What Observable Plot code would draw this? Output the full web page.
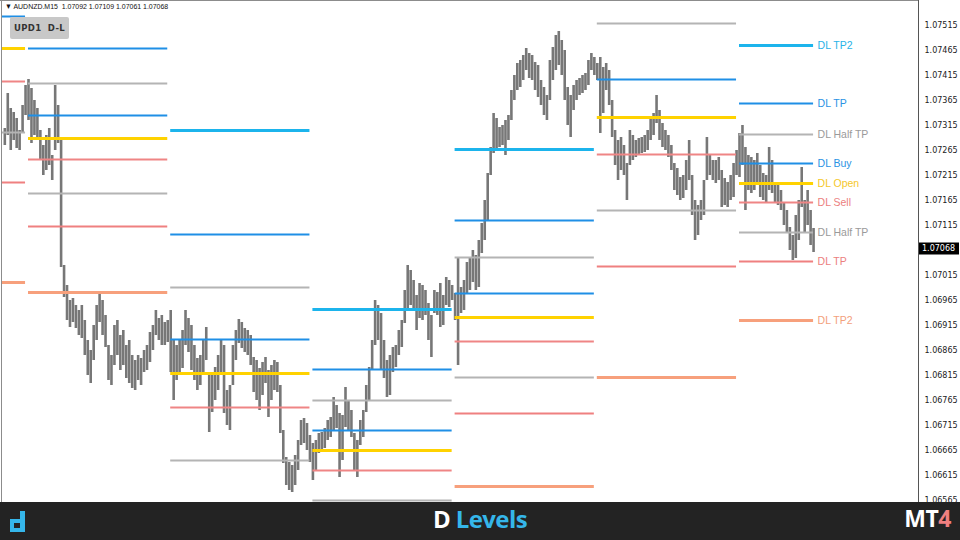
<!DOCTYPE html>
<html><head><meta charset="utf-8">
<script src="https://cdn.jsdelivr.net/npm/d3@7"></script>
<script src="https://cdn.jsdelivr.net/npm/@observablehq/plot@0.6"></script>
<style>
html,body{margin:0;padding:0;background:#fff;width:960px;height:540px;overflow:hidden}
#wrap{position:relative;width:960px;height:540px}
#chart{position:absolute;left:0;top:0;width:960px;height:502px}
#chart svg{overflow:hidden;display:block}
#footer{position:absolute;left:0;top:502px;width:960px;height:38px;background:#232323}
#hdr{position:absolute;left:5px;top:2px;font:8px "Liberation Sans",Arial,sans-serif;color:#111;white-space:pre;transform:scaleX(0.87);transform-origin:0 0}
#btn{position:absolute;left:10px;top:17px;width:59px;height:22px;background:#c8c8c8;border-radius:2px;font:bold 8.5px "DejaVu Sans",sans-serif;color:#333;line-height:22px;text-align:center;letter-spacing:.3px}
.bl{position:absolute;background:#8c8c8c}
#title{position:absolute;left:0;width:960px;top:0;height:38px;line-height:38px;text-align:center;font:700 24px "Open Sans",sans-serif;color:#fff;letter-spacing:-0.6px}
#mt{position:absolute;right:9px;top:0;height:38px;line-height:38px;font:700 23px "Open Sans",sans-serif;color:#fff;letter-spacing:-0.5px}
.cy{color:#35b6ea}.rd{color:#f07f7f}
#logo{position:absolute;left:10px;top:9px;width:15px;height:21px}
</style></head><body>
<div id="wrap">
<div id="chart"></div>
<div class="bl" style="left:0;top:0;width:918px;height:1px"></div>
<div class="bl" style="left:1px;top:0;width:1px;height:502px"></div>
<div id="hdr">&#9660; AUDNZD.M15  1.07092 1.07109 1.07061 1.07068</div>
<div id="btn">UPD1&nbsp; D-L</div>
<div id="footer">
  <svg id="logo" viewBox="0 0 15 21"><path fill="#35b6ea" d="M10 0h5v21H0V8h10z M4 12v5h6v-5z" fill-rule="evenodd"/></svg>
  <div id="title">D <span class="cy">Levels</span></div>
  <div id="mt">MT<span class="rd">4</span></div>
</div>
</div>
<script>
// ---- data ----
const symbolName = "AUDNZD.M15";
const lastClose = 1.07068;
const barStartHour = 20;      // hour of first bar
const barStepHours = 0.5;     // bar spacing (hours)
const highs = [
1.07309,1.07379,1.07349,1.07341,1.07329,1.07305,1.07355,1.07395,1.07407,1.07389,
1.07365,1.07349,1.07305,1.07275,1.07295,1.07309,1.07255,1.07395,1.07355,1.07291,
1.07035,1.06995,1.06965,1.06969,1.06955,1.06945,1.06955,1.06925,1.06885,1.06865,
1.06915,1.06955,1.06979,1.06965,1.06935,1.06875,1.06855,1.06915,1.06925,1.06895,
1.06905,1.06875,1.06885,1.06855,1.06845,1.06855,1.06849,1.06865,1.06875,1.06901,
1.06915,1.06945,1.06929,1.06935,1.06921,1.06925,1.06945,1.06885,1.06875,1.06885,
1.06905,1.06945,1.06929,1.06915,1.06875,1.06849,1.06855,1.06885,1.06911,1.06819,
1.06815,1.06831,1.06855,1.06885,1.06875,1.06785,1.06795,1.06875,1.06905,1.06927,
1.06921,1.06909,1.06905,1.06895,1.06851,1.06845,1.06829,1.06841,1.06851,1.06825,
1.06835,1.06845,1.06841,1.06795,1.06705,1.06651,1.06641,1.06635,1.06655,1.06685,
1.06725,1.06729,1.06719,1.06695,1.06679,1.06685,1.06699,1.06701,1.06709,1.06725,
1.06731,1.06771,1.06755,1.06739,1.06735,1.06791,1.06765,1.06745,1.06699,1.06685,
1.06725,1.06745,1.06795,1.06831,1.06885,1.06965,1.06955,1.06939,1.06885,1.06845,
1.06855,1.06871,1.06875,1.06905,1.06925,1.06985,1.07035,1.07025,1.07005,1.06975,
1.06999,1.06995,1.06985,1.06959,1.06935,1.06985,1.06981,1.06999,1.06975,1.07011,
1.07005,1.06995,1.06979,1.07051,1.06991,1.07005,1.07041,1.07049,1.07065,1.07055,
1.07085,1.07119,1.07165,1.07219,1.07271,1.07339,1.07329,1.07311,1.07315,1.07325,
1.07335,1.07385,1.07415,1.07439,1.07445,1.07455,1.07469,1.07459,1.07455,1.07441,
1.07435,1.07405,1.07391,1.07375,1.07445,1.07471,1.07495,1.07503,1.07485,1.07465,
1.07391,1.07375,1.07395,1.07405,1.07409,1.07415,1.07419,1.07445,1.07459,1.07451,
1.07439,1.07451,1.07431,1.07439,1.07425,1.07365,1.07305,1.07285,1.07291,1.07275,
1.07239,1.07305,1.07295,1.07285,1.07289,1.07291,1.07295,1.07305,1.07329,1.07339,
1.07375,1.07345,1.07319,1.07305,1.07295,1.07275,1.07239,1.07229,1.07211,1.07215,
1.07245,1.07285,1.07215,1.07165,1.07155,1.07165,1.07205,1.07291,1.07255,1.07245,
1.07245,1.07251,1.07225,1.07209,1.07201,1.07215,1.07239,1.07265,1.07299,1.07315,
1.07271,1.07255,1.07251,1.07245,1.07259,1.07235,1.07219,1.07215,1.07271,1.07245,
1.07199,1.07195,1.07185,1.07159,1.07145,1.07111,1.07095,1.07135,1.07165,1.07231,
1.07165,1.07185,1.07145,1.07109];
const lows = [
1.07275,1.07295,1.07265,1.07285,1.07269,1.07265,1.07301,1.07335,1.07325,1.07279,
1.07295,1.07285,1.07245,1.07215,1.07225,1.07235,1.07205,1.07265,1.07279,1.07031,
1.06971,1.06925,1.06911,1.06921,1.06909,1.06895,1.06889,1.06855,1.06815,1.06799,
1.06845,1.06885,1.06921,1.06895,1.06871,1.06805,1.06795,1.06835,1.06855,1.06825,
1.06835,1.06809,1.06799,1.06789,1.06785,1.06805,1.06795,1.06821,1.06825,1.06841,
1.06865,1.06895,1.06885,1.06875,1.06875,1.06881,1.06821,1.06765,1.06805,1.06821,
1.06829,1.06875,1.06861,1.06825,1.06805,1.06785,1.06795,1.06821,1.06845,1.06701,
1.06741,1.06765,1.06785,1.06815,1.06739,1.06715,1.06705,1.06795,1.06845,1.06879,
1.06869,1.06861,1.06855,1.06835,1.06781,1.06765,1.06745,1.06775,1.06799,1.06731,
1.06765,1.06785,1.06781,1.06699,1.06639,1.06595,1.06585,1.06581,1.06595,1.06625,
1.06675,1.06679,1.06665,1.06641,1.06605,1.06625,1.06659,1.06665,1.06669,1.06685,
1.06691,1.06705,1.06709,1.06611,1.06645,1.06711,1.06705,1.06691,1.06625,1.06611,
1.06675,1.06691,1.06741,1.06765,1.06825,1.06875,1.06885,1.06825,1.06809,1.06771,
1.06775,1.06821,1.06831,1.06855,1.06871,1.06919,1.06945,1.06955,1.06945,1.06905,
1.06929,1.06925,1.06935,1.06885,1.06851,1.06939,1.06935,1.06911,1.06915,1.06955,
1.06951,1.06965,1.06925,1.06835,1.06939,1.06945,1.06979,1.06985,1.07001,1.06985,
1.06991,1.07059,1.07085,1.07125,1.07215,1.07259,1.07265,1.07271,1.07275,1.07255,
1.07285,1.07325,1.07365,1.07385,1.07391,1.07405,1.07425,1.07409,1.07405,1.07385,
1.07371,1.07355,1.07335,1.07325,1.07365,1.07405,1.07425,1.07435,1.07415,1.07365,
1.07315,1.07291,1.07345,1.07365,1.07375,1.07379,1.07385,1.07395,1.07425,1.07415,
1.07405,1.07299,1.07339,1.07385,1.07355,1.07291,1.07235,1.07205,1.07225,1.07215,
1.07165,1.07235,1.07245,1.07251,1.07255,1.07259,1.07261,1.07265,1.07285,1.07295,
1.07319,1.07285,1.07271,1.07265,1.07251,1.07225,1.07185,1.07175,1.07165,1.07169,
1.07185,1.07205,1.07135,1.07085,1.07095,1.07125,1.07135,1.07205,1.07215,1.07205,
1.07199,1.07205,1.07151,1.07155,1.07151,1.07165,1.07171,1.07215,1.07211,1.07235,
1.07145,1.07185,1.07179,1.07185,1.07195,1.07171,1.07165,1.07159,1.07185,1.07179,
1.07159,1.07155,1.07145,1.07115,1.07099,1.07065,1.07045,1.07049,1.07085,1.07151,
1.07099,1.07115,1.07075,1.07061];

// daily levels (one entry per day, null = off chart)
const dayStart = [0, 24, 48, 72, 96, 120, 144];
const dayEnd   = [23.5, 47.5, 71.5, 95.5, 119.5, 143.5, 156.5];
const tp2Up  = [null, null, 1.07305, 1.06947, 1.07267, null, 1.07475];
const tpUp   = [null, 1.07469, 1.07097, 1.06827, 1.07125, null, 1.07359];
const halfUp = [null, 1.07399, 1.06991, 1.06765, 1.07051, 1.07519, 1.07297];
const buy    = [1.07533, 1.07335, 1.06887, 1.06705, 1.06979, 1.07407, 1.07239];
const openL  = [1.07469, 1.07289, 1.06819, 1.06665, 1.06931, 1.07331, 1.07199];
const sell   = [1.07403, 1.07247, 1.06751, 1.06625, 1.06883, 1.07257, 1.07161];
const halfDn = [1.07301, 1.07179, 1.06645, 1.06565, 1.06811, 1.07145, 1.07101];
const tpDn   = [1.07201, 1.07113, null, null, 1.06739, 1.07033, 1.07043];
const tp2Dn  = [1.07001, 1.06981, null, null, 1.06593, 1.06811, 1.06925];

const levelNames  = ["DL TP2","DL TP","DL Half TP","DL Buy","DL Open","DL Sell","DL Half TP","DL TP","DL TP2"];
const levelSeries = [tp2Up, tpUp, halfUp, buy, openL, sell, halfDn, tpDn, tp2Dn];
const levelColors = ["#1cb4ec","#1f8fe6","#b4b4b4","#1f8fe6","#ffd200","#ef8585","#b4b4b4","#ef8080","#f7a07c"];
const labelColors = ["#29b3e8","#2a92e4","#9a9a9a","#2a92e4","#f5c72a","#ec8080","#9a9a9a","#ec8080","#f3a07c"];
const levelWidths = [3, 2, 2, 2, 3, 2, 2, 2, 3];

const priceTicks = [1.07515,1.07465,1.07415,1.07365,1.07315,1.07265,1.07215,1.07165,1.07115,
  1.07015,1.06965,1.06915,1.06865,1.06815,1.06765,1.06715,1.06665,1.06615,1.06565];
const xDomain = [19.61, 174.21];
const yDomain = [1.06561, 1.07565];

// ---- build tables ----
const bars = highs.map((h, i) => ({t: barStartHour + i * barStepHours, hi: h, lo: lows[i]}));
const levels = [];
levelSeries.forEach((arr, k) => arr.forEach((v, d) => {
  if (v != null) levels.push({k, day: d, x1: dayStart[d], x2: dayEnd[d], v});
}));
const lastDay = dayStart.length - 1;
const labels = levels.filter(r => r.day === lastDay);

const marks = [
  Plot.ruleX(bars, {x: "t", y1: "lo", y2: "hi", stroke: "#777", strokeWidth: 2.6, clip: true}),
];
levelSeries.forEach((_, k) => {
  marks.push(Plot.ruleY(levels.filter(r => r.k === k), {
    y: "v", x1: "x1", x2: "x2", stroke: levelColors[k], strokeWidth: levelWidths[k], clip: true
  }));
});
marks.push(Plot.text(labels, {
  x: "x2", y: "v", text: d => levelNames[d.k], fill: d => labelColors[d.k],
  textAnchor: "start", dx: 4, fontSize: 10.5, fontFamily: "Liberation Sans, Arial, sans-serif"
}));
marks.push(Plot.ruleX([xDomain[1]], {stroke: "#555", strokeWidth: 1}));
marks.push(Plot.axisY(priceTicks, {
  anchor: "right", tickSize: 3, tickPadding: 3, tickFormat: d => d.toFixed(5),
  fontSize: 8, fontFamily: "DejaVu Sans, sans-serif", fill: "#222", stroke: null, label: null
}));

const chart = Plot.plot({
  width: 960, height: 502,
  marginLeft: 2, marginRight: 42, marginTop: 0, marginBottom: 0,
  style: {background: "#fff", color: "#333"},
  x: {domain: xDomain, axis: null},
  y: {domain: yDomain, label: null},
  marks
});
document.getElementById("chart").appendChild(chart);

// current price box on the axis
const yPix = chart.scale("y").apply(lastClose);
const xPix = chart.scale("x").apply(xDomain[1]);
const svg = d3.select(chart);
svg.append("rect").attr("x", xPix + 1).attr("y", yPix - 6).attr("width", 40).attr("height", 12).attr("fill", "#000");
svg.append("text").attr("x", xPix + 4).attr("y", yPix).attr("dy", "0.35em")
  .attr("text-anchor", "start")
  .attr("fill", "#fff").attr("font-size", 8).attr("font-family", "DejaVu Sans, sans-serif")
  .text(lastClose.toFixed(5));
</script>
</body></html>
